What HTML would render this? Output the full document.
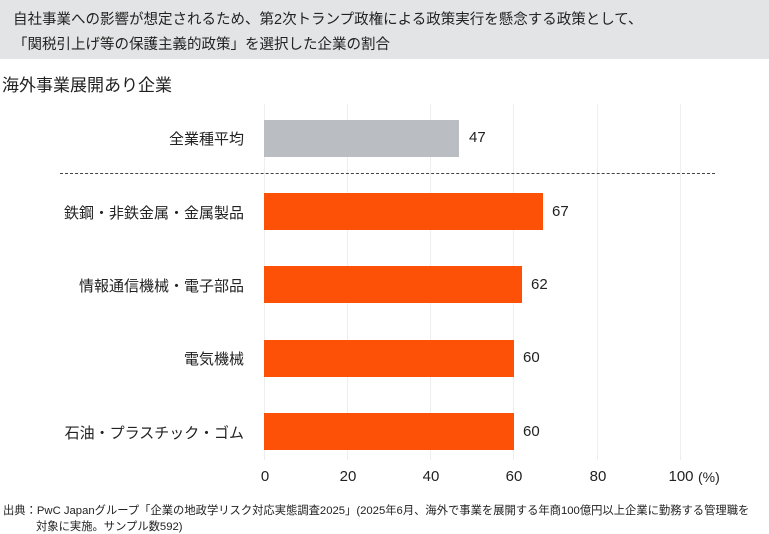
<!DOCTYPE html>
<html><head><meta charset="utf-8"><style>
body{margin:0;width:769px;height:533px;background:#fff;font-family:"Liberation Sans","Noto Sans CJK JP",sans-serif;color:#222;position:relative;overflow:hidden}
.hdr{position:absolute;left:0;top:0;width:769px;height:59px;background:#e3e4e5}
.t{position:absolute;white-space:nowrap}
.grid{position:absolute;top:104px;height:356px;width:1px;background:#eeeeee}
.bar{position:absolute;left:264px;height:37px;background:#fd5108}
.lab{position:absolute;right:525px;font-size:15px;white-space:nowrap}
.val{position:absolute;font-size:15px}
.tick{position:absolute;top:468px;font-size:15px;transform:translateX(-50%)}
</style></head><body>
<div class="hdr"></div>
<div class="t" style="left:13px;top:8px;font-size:14.5px">自社事業への影響が想定されるため、第2次トランプ政権による政策実行を懸念する政策として、</div>
<div class="t" style="left:13px;top:33px;font-size:14.5px">「関税引上げ等の保護主義的政策」を選択した企業の割合</div>
<div class="t" style="left:2px;top:71px;font-size:17px">海外事業展開あり企業</div>
<div class="grid" style="left:264px"></div>
<div class="grid" style="left:347px"></div>
<div class="grid" style="left:430px"></div>
<div class="grid" style="left:513px"></div>
<div class="grid" style="left:597px"></div>
<div class="grid" style="left:680px"></div>
<div class="bar" style="top:120px;width:195px;background:#babdc2"></div>
<div class="lab" style="top:128px">全業種平均</div><div class="val" style="left:469px;top:129px">47</div>
<div style="position:absolute;left:60px;top:173px;width:655px;border-top:1.5px dashed #444"></div>
<div class="bar" style="top:193px;width:279px"></div>
<div class="lab" style="top:202px">鉄鋼・非鉄金属・金属製品</div><div class="val" style="left:552px;top:203px">67</div>
<div class="bar" style="top:266px;width:258px"></div>
<div class="lab" style="top:275px">情報通信機械・電子部品</div><div class="val" style="left:531px;top:276px">62</div>
<div class="bar" style="top:340px;width:250px"></div>
<div class="lab" style="top:348px">電気機械</div><div class="val" style="left:523px;top:349px">60</div>
<div class="bar" style="top:413px;width:250px"></div>
<div class="lab" style="top:422px">石油・プラスチック・ゴム</div><div class="val" style="left:523px;top:423px">60</div>
<div class="tick" style="left:265px">0</div>
<div class="tick" style="left:348px">20</div>
<div class="tick" style="left:431px">40</div>
<div class="tick" style="left:514px">60</div>
<div class="tick" style="left:598px">80</div>
<div class="tick" style="left:681px">100</div>
<div class="t" style="left:698px;top:469px;font-size:14px">(%)</div>
<div class="t" style="left:3px;top:502px;font-size:11.3px">出典：PwC Japanグループ「企業の地政学リスク対応実態調査2025」(2025年6月、海外で事業を展開する年商100億円以上企業に勤務する管理職を</div>
<div class="t" style="left:36px;top:518px;font-size:11.3px">対象に実施。サンプル数592)</div>
</body></html>
